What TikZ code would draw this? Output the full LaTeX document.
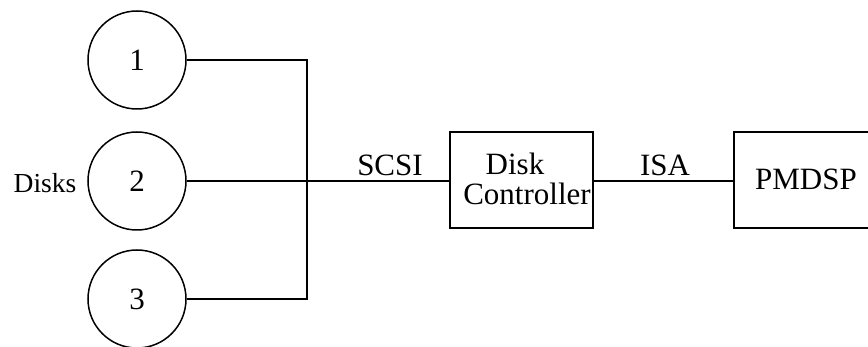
\documentclass[tikz,border=0pt]{standalone}
\usepackage{fontspec}
\setmainfont{Liberation Serif}
\begin{document}
\begin{tikzpicture}[x=1pt,y=-1pt,
    line width=1.5pt,
    disk/.style={draw,circle,minimum size=98pt,inner sep=0pt,
                 font=\fontsize{31}{36}\selectfont},
    unit/.style={draw,rectangle,inner sep=0pt,minimum height=96pt},
    lbl/.style={inner sep=0pt,anchor=base,font=\fontsize{31}{36}\selectfont}]
  % page area
  \clip (0,0) rectangle (868,347);
  \fill[white] (0,0) rectangle (868,347);

  % disks
  \node[disk] (d1) at (137,60)  {1};
  \node[disk] (d2) at (137,181) {2};
  \node[disk] (d3) at (137,299) {3};
  \node[lbl,font=\fontsize{27.5}{32}\selectfont] (dlabel) at (45,193) {Disks};

  % controller and DSP board
  \node[unit,minimum width=143pt] (ctrl) at (521.5,180) {};
  \node[unit,minimum width=150pt] (dsp)  at (809,180) {};

  % SCSI bus joining the three disks
  \coordinate (bus) at (307,181);
  \draw (d1.east) -- (d1.east -| bus) -- (d3.east -| bus) -- (d3.east);
  \draw (d2.east) -- (d2.east -| ctrl.west);
  \draw (ctrl.east |- d2.east) -- (dsp.west |- d2.east);

  % labels
  \node[lbl] (scsi) at (390,176) {SCSI};
  \node[lbl] (isa)  at (665,176) {ISA};
  \node[lbl] (t1)   at (515,175) {Disk};
  \node[lbl] (t2)   at (527,205) {Controller};
  \node[lbl] (t3)   at (806,190) {PMDSP};
\end{tikzpicture}
\end{document}
